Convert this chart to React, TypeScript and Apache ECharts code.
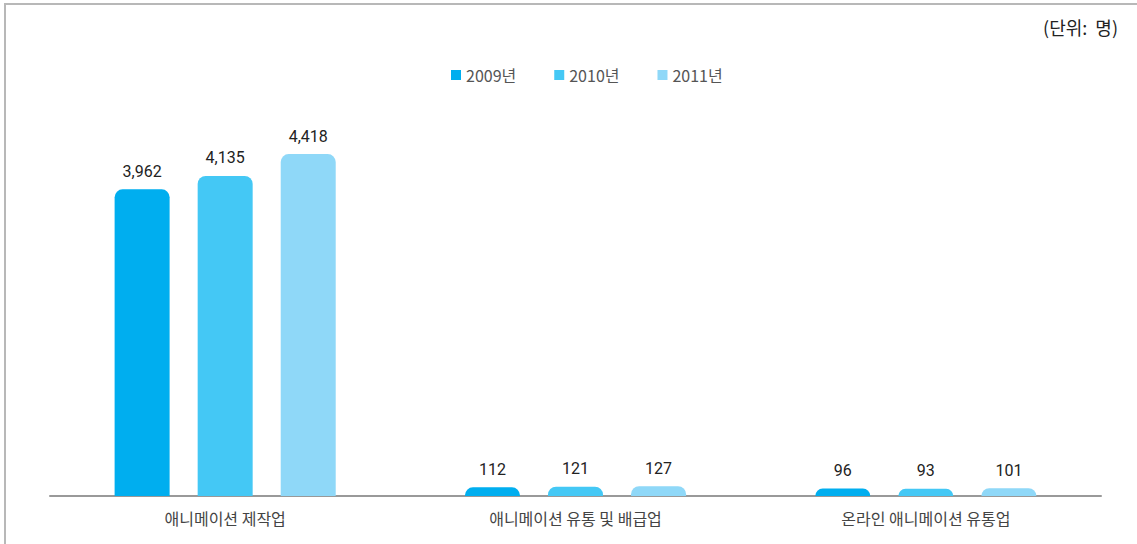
import React, { useEffect, useRef } from "react";
import * as echarts from "echarts";

const categories = ["애니메이션 제작업", "애니메이션 유통 및 배급업", "온라인 애니메이션 유통업"];
const seriesNames = ["2009년", "2010년", "2011년"];
const values2009 = [3962, 112, 96];
const values2010 = [4135, 121, 93];
const values2011 = [4418, 127, 101];
const colors = ["#00aeef", "#44c8f5", "#8fd8f8"];

export default function App() {
  const ref = useRef<HTMLDivElement>(null);
  useEffect(() => {
    const chart = echarts.init(ref.current!, null, { renderer: "svg" });
    const data = [values2009, values2010, values2011];
    chart.setOption({
      animation: false,
      backgroundColor: "#ffffff",
      grid: { left: 50, right: 36, top: 109, bottom: 48, containLabel: false },
      legend: {
        left: 446,
        top: 62,
        itemWidth: 10,
        itemHeight: 10,
        itemGap: 38,
        icon: "rect",
        textStyle: { fontFamily: "Noto Sans CJK KR", fontSize: 16, color: "#555" },
        data: seriesNames,
      },
      graphic: [
        { type: "line", shape: { x1: 4, y1: 4, x2: 1137, y2: 4 }, style: { stroke: "#b8b8b8", lineWidth: 2 } },
        { type: "line", shape: { x1: 5, y1: 3, x2: 5, y2: 544 }, style: { stroke: "#b8b8b8", lineWidth: 2 } },
        {
          type: "text",
          right: 19,
          top: 18,
          style: { text: "(단위:  명)", fontFamily: "Noto Sans CJK KR", fontSize: 18, fill: "#222" },
        },
      ],
      xAxis: {
        type: "category",
        data: categories,
        axisLine: { lineStyle: { color: "#999", width: 2 } },
        axisTick: { show: false },
        axisLabel: { fontFamily: "Noto Sans CJK KR", fontSize: 16, color: "#444", margin: 14 },
      },
      yAxis: {
        type: "value",
        min: 0,
        max: 5000,
        show: false,
        splitLine: { show: false },
      },
      series: seriesNames.map((name, i) => ({
        name,
        type: "bar",
        data: data[i],
        barWidth: 55,
        barGap: "51%",
        itemStyle: { color: colors[i], borderRadius: [8, 8, 0, 0] },
        label: {
          show: true,
          position: "top",
          distance: 10,
          fontFamily: "Roboto",
          fontSize: 16,
          color: "#222",
          formatter: (p: any) => Number(p.value).toLocaleString("en-US"),
        },
      })),
    });
    return () => chart.dispose();
  }, []);
  return (
    <div
      ref={ref}
      style={{ position: "absolute", left: 0, top: 0, width: 1137, height: 544 }}
    />
  );
}
